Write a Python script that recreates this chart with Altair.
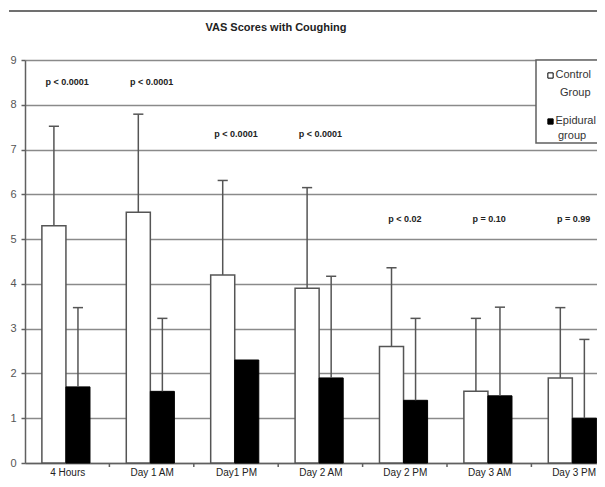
import altair as alt
import pandas as pd

categories = ["4 Hours", "Day 1 AM", "Day1 PM", "Day 2 AM", "Day 2 PM", "Day 3 AM", "Day 3 PM"]
control_mean = [5.3, 5.6, 4.2, 3.9, 2.6, 1.6, 1.9]
control_upper = [7.52, 7.79, 6.31, 6.15, 4.36, 3.23, 3.47]
epidural_mean = [1.7, 1.6, 2.3, 1.9, 1.4, 1.5, 1.0]
epidural_upper = [3.47, 3.23, None, 4.17, 3.23, 3.48, 2.76]
p_labels = ["p < 0.0001", "p < 0.0001", "p < 0.0001", "p < 0.0001", "p < 0.02", "p = 0.10", "p = 0.99"]
p_y = [8.5, 8.5, 7.35, 7.35, 5.45, 5.45, 5.45]
y_ticks = list(range(10))

W, H = 572, 403
FONT = "Liberation Sans"
BAND_PX = 84.4
XMAX = W / BAND_PX
L, M, R = 0.2, 0.485, 0.77
CAP = 0.06

rows = []
for i, c in enumerate(categories):
    rows.append(dict(cat=c, group="Control", x0=i + L, x1=i + M, mean=control_mean[i], upper=control_upper[i]))
    rows.append(dict(cat=c, group="Epidural", x0=i + M, x1=i + R, mean=epidural_mean[i], upper=epidural_upper[i]))
bars = pd.DataFrame(rows)
bars["base"] = 0.0
bars["xc"] = (bars["x0"] + bars["x1"]) / 2
bars["c0"] = bars["xc"] - CAP
bars["c1"] = bars["xc"] + CAP
errs = bars.dropna(subset=["upper"])

xscale = alt.Scale(domain=[0, XMAX], nice=False, zero=False)
yscale = alt.Scale(domain=[0, 9], nice=False)

label_expr = "[" + ",".join("'" + c + "'" for c in categories) + "][floor(datum.value)]"
xaxis = alt.Axis(values=[i + 0.5 for i in range(len(categories))], labelExpr=label_expr,
                 ticks=False, grid=False, title=None, domainColor="#606060", domainWidth=1.5,
                 labelFont=FONT, labelFontSize=10, labelColor="#222222", labelPadding=4)
yaxis = alt.Axis(values=y_ticks, title=None, grid=True, gridColor="#8a8a8a", gridWidth=1.5,
                 domainColor="#606060", domainWidth=1.5, tickColor="#606060", tickSize=4,
                 tickWidth=1.5, labelFont=FONT, labelFontSize=11, labelColor="#555555",
                 labelPadding=5)

base = alt.Chart(bars)

control = base.transform_filter(alt.datum.group == "Control").mark_rect(
    fill="white", stroke="#555555", strokeWidth=1.5).encode(
    x=alt.X("x0:Q", scale=xscale, axis=xaxis),
    x2="x1:Q",
    y=alt.Y("mean:Q", scale=yscale, axis=yaxis),
    y2="base:Q",
)
epid = base.transform_filter(alt.datum.group == "Epidural").mark_rect(
    fill="black", stroke="black", strokeWidth=1).encode(
    x=alt.X("x0:Q", scale=xscale, axis=None),
    x2="x1:Q",
    y=alt.Y("mean:Q", scale=yscale, axis=None),
    y2="base:Q",
)

whisk = alt.Chart(errs).mark_rule(color="#555555", strokeWidth=1.5).encode(
    x=alt.X("xc:Q", scale=xscale, axis=None),
    y=alt.Y("mean:Q", scale=yscale, axis=None),
    y2="upper:Q",
)
caps = alt.Chart(errs).mark_rule(color="#555555", strokeWidth=1.5).encode(
    x=alt.X("c0:Q", scale=xscale, axis=None),
    x2="c1:Q",
    y=alt.Y("upper:Q", scale=yscale, axis=None),
)

bounds = alt.Chart(pd.DataFrame({"b": list(range(1, len(categories)))})).mark_rule(
    color="#606060", strokeWidth=1.5).encode(
    x=alt.X("b:Q", scale=xscale, axis=None),
    y=alt.value(H), y2=alt.value(H + 4),
)

pdf = pd.DataFrame({"xc": [i + 0.5 for i in range(len(categories))], "y": p_y, "t": p_labels})
ptext = alt.Chart(pdf).mark_text(font=FONT, fontSize=9, fontWeight="bold", color="#222222").encode(
    x=alt.X("xc:Q", scale=xscale, axis=None),
    y=alt.Y("y:Q", scale=yscale, axis=None),
    text="t:N",
)

one = pd.DataFrame({"a": [0]})
legend_box = alt.Chart(one).mark_rect(fill="white", stroke="#606060", strokeWidth=1.5).encode(
    x=alt.value(511), x2=alt.value(W + 20), y=alt.value(0), y2=alt.value(83))
sq_c = alt.Chart(one).mark_square(size=28, fill="white", stroke="black", strokeWidth=1, opacity=1).encode(
    x=alt.value(525.5), y=alt.value(15.5))
sq_e = alt.Chart(one).mark_square(size=28, fill="black", stroke="black", strokeWidth=1, opacity=1).encode(
    x=alt.value(525.5), y=alt.value(61.5))

leg_df = pd.DataFrame({"t": ["Control", "Group", "Epidural", "group"],
                       "px": [530.5, 535, 530.5, 533], "py": [15, 33, 61, 76]})
leg_text = alt.Chart(leg_df).mark_text(font=FONT, fontSize=11, align="left", color="#333333").encode(
    x=alt.X("px:Q", scale=alt.Scale(domain=[0, W], range=[0, W]), axis=None),
    y=alt.Y("py:Q", scale=alt.Scale(domain=[0, H], range=[0, H]), axis=None),
    text="t:N",
)

top_rule = alt.Chart(one).mark_rule(color="#404040", strokeWidth=1.5).encode(
    x=alt.value(-16), x2=alt.value(W + 20), y=alt.value(-49))
title = alt.Chart(pd.DataFrame({"t": ["VAS Scores with Coughing"]})).mark_text(
    font=FONT, fontSize=11, fontWeight="bold", color="#222222").encode(
    x=alt.value(251), y=alt.value(-32), text="t:N")

chart = alt.layer(
    control, epid, whisk, caps, bounds, ptext, legend_box, sq_c, sq_e, leg_text, top_rule, title
).resolve_scale(x="independent", y="independent").properties(
    width=W, height=H,
    autosize=alt.AutoSizeParams(type="none"),
    padding={"left": 17, "top": 52, "right": 0, "bottom": 16},
).configure_view(stroke=None)

chart.save("out.html", embed_options={"renderer": "svg", "actions": False})
